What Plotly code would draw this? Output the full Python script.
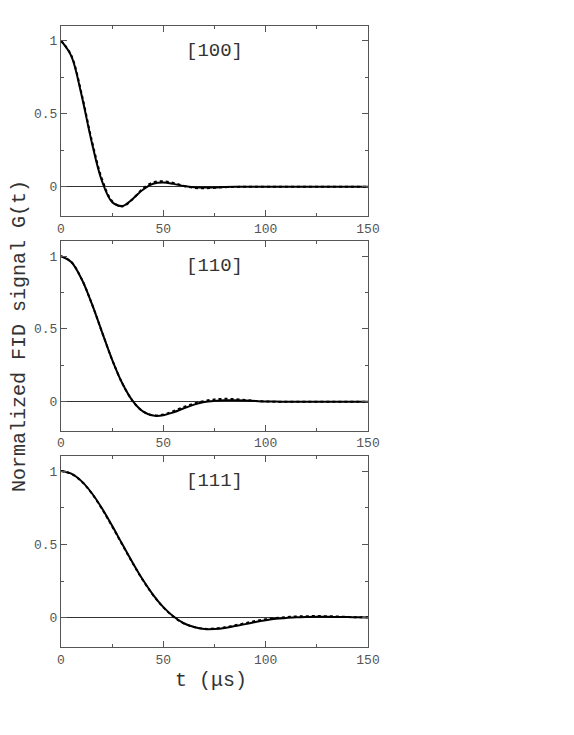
import plotly.graph_objects as go

t = [0, 5, 10, 15, 20, 25, 30, 35, 40, 45, 50, 55, 60, 65, 70, 75, 80, 85, 90, 95,
     100, 105, 110, 115, 120, 125, 130, 135, 140, 145, 150]

g100_solid = [1.0, 0.896, 0.630, 0.307, 0.040, -0.105, -0.131, -0.083, -0.020, 0.021, 0.030,
              0.020, 0.006, -0.003, -0.005, -0.004, -0.001, 0.0, 0.0, 0.0,
              0.0, 0.0, 0.0, 0.0, 0.0, 0.0, 0.0, 0.0, 0.0, 0.0, 0.0]
g100_dot = [1.0, 0.900, 0.640, 0.320, 0.055, -0.098, -0.134, -0.085, -0.012, 0.030, 0.038,
            0.026, 0.006, -0.007, -0.010, -0.007, -0.003, -0.001, 0.0, 0.0,
            0.0, 0.0, 0.0, 0.0, 0.0, 0.0, 0.0, 0.0, 0.0, 0.0, 0.0]

g110_solid = [1.0, 0.959, 0.844, 0.675, 0.480, 0.288, 0.125, 0.006, -0.066, -0.095, -0.093,
              -0.072, -0.045, -0.020, -0.002, 0.006, 0.010, 0.010, 0.008, 0.005,
              0.002, 0.001, 0.0, 0.0, 0.0, 0.0, 0.0, 0.0, 0.0, 0.0, 0.0]
g110_dot = [1.0, 0.960, 0.845, 0.675, 0.480, 0.288, 0.125, 0.005, -0.066, -0.094, -0.088,
            -0.064, -0.036, -0.012, 0.005, 0.016, 0.020, 0.018, 0.012, 0.006,
            0.002, 0.0, 0.0, 0.0, 0.0, 0.0, 0.0, 0.0, 0.0, 0.0, 0.0]

g111_solid = [1.0, 0.982, 0.931, 0.850, 0.746, 0.626, 0.500, 0.375, 0.258, 0.156, 0.072,
              0.008, -0.038, -0.064, -0.077, -0.077, -0.070, -0.057, -0.044, -0.030,
              -0.018, -0.008, -0.002, 0.003, 0.005, 0.006, 0.006, 0.005, 0.004, 0.002, 0.001]
g111_dot = [1.0, 0.982, 0.930, 0.848, 0.743, 0.622, 0.497, 0.372, 0.256, 0.154, 0.070,
            0.006, -0.039, -0.064, -0.076, -0.074, -0.066, -0.052, -0.037, -0.023,
            -0.011, -0.002, 0.004, 0.008, 0.010, 0.011, 0.010, 0.008, 0.005, 0.003, 0.002]

panels = [
    ("[100]", g100_solid, g100_dot),
    ("[110]", g110_solid, g110_dot),
    ("[111]", g111_solid, g111_dot),
]

x_ticks = [0, 50, 100, 150]
y_ticks = [0, 0.5, 1]
y_ticktext = ["0", "0.5", "1"]

domains = [[0.694, 1.0], [0.348, 0.653], [0.0, 0.307]]

FONT = "Liberation Mono, Courier New, monospace"

fig = go.Figure()
layout = dict(
    width=558, height=719,
    margin=dict(l=53, r=198, t=18, b=80, autoexpand=False),
    paper_bgcolor="white", plot_bgcolor="white",
    showlegend=False,
    font=dict(family=FONT, color="#444", size=13),
)
annotations = []
for i, (lab, ys, yd) in enumerate(panels):
    n = "" if i == 0 else str(i + 1)
    xa, ya = "x" + n, "y" + n
    fig.add_trace(go.Scatter(x=t, y=ys, mode="lines", line=dict(color="black", width=2, shape="spline"),
                             xaxis=xa, yaxis=ya))
    fig.add_trace(go.Scatter(x=t, y=yd, mode="lines", line=dict(color="black", width=2, dash="dot", shape="spline"),
                             xaxis=xa, yaxis=ya))
    layout["xaxis" + n] = dict(
        domain=[0, 1], anchor=ya, range=[0, 150], tickvals=x_ticks,
        showline=True, linecolor="#555", linewidth=1, mirror="allticks",
        ticks="inside", ticklen=6, tickcolor="#555", showgrid=False, zeroline=False,
        minor=dict(dtick=25, tick0=0, ticks="inside", ticklen=3, tickcolor="#555"),
        tickfont=dict(family=FONT, size=13, color="#555"),
    )
    layout["yaxis" + n] = dict(
        domain=domains[i], anchor=xa, range=[-0.2, 1.1], tickvals=y_ticks, ticktext=y_ticktext,
        showline=True, linecolor="#555", linewidth=1, mirror="allticks",
        ticks="inside", ticklen=6, tickcolor="#555", showgrid=False,
        zeroline=True, zerolinecolor="#333", zerolinewidth=1,
        minor=dict(dtick=0.25, tick0=0, ticks="inside", ticklen=3, tickcolor="#555"),
        tickfont=dict(family=FONT, size=13, color="#555"),
    )
    annotations.append(dict(text=lab, x=75, y=0.93, xref=xa, yref=ya, showarrow=False,
                            font=dict(family=FONT, size=19, color="#333")))

annotations.append(dict(text="Normalized FID signal G(t)", x=-0.135, y=0.5, xref="paper", yref="paper",
                        textangle=-90, showarrow=False, xanchor="center", yanchor="middle",
                        font=dict(family=FONT, size=20, color="#333")))
annotations.append(dict(text="t (μs)", x=0.49, y=-0.054, xref="paper", yref="paper",
                        showarrow=False, xanchor="center", yanchor="middle",
                        font=dict(family=FONT, size=20, color="#333")))
layout["annotations"] = annotations
fig.update_layout(**layout)
fig.write_html("out.html")
